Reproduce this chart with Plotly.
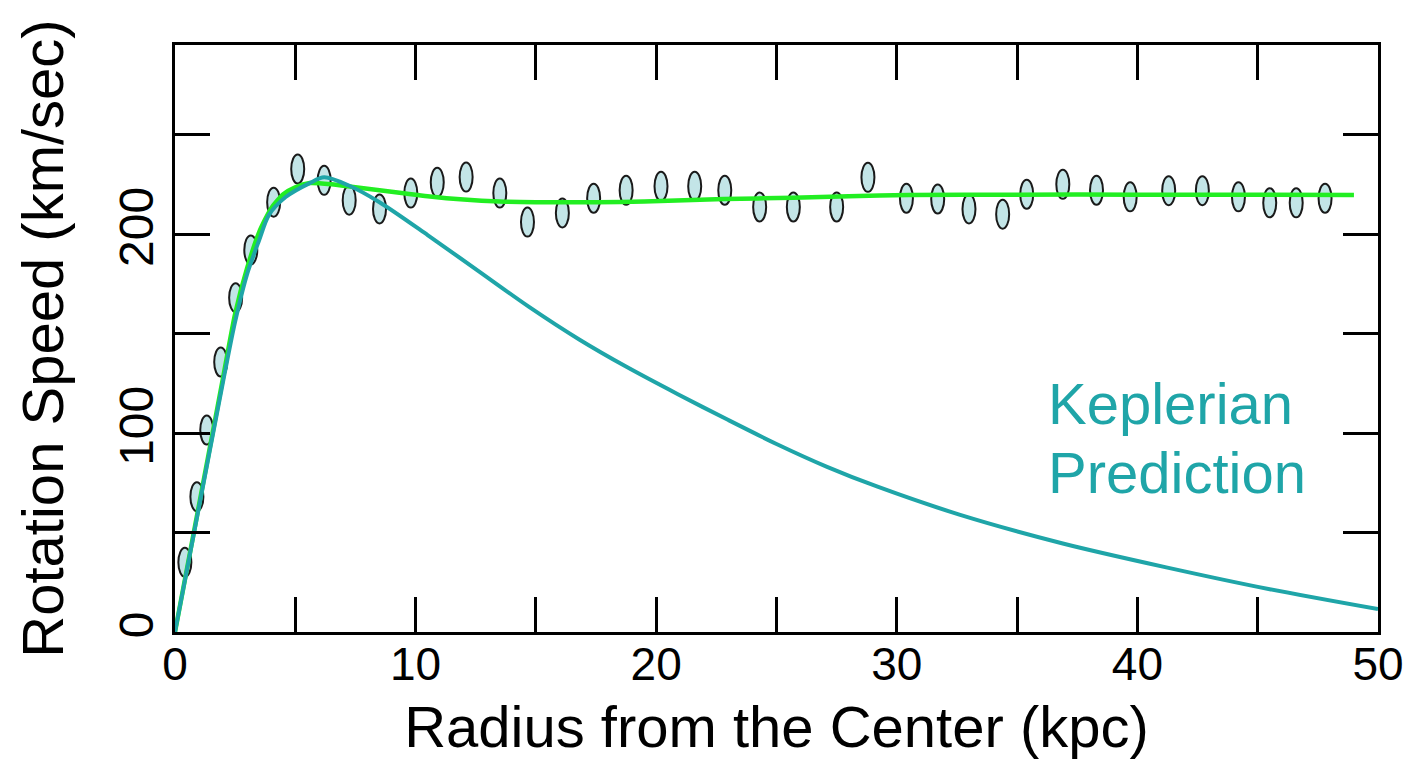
import plotly.graph_objects as go

# Observed rotation speeds (kpc, km/s)
radius_obs = [0.41, 0.91, 1.32, 1.9, 2.52, 3.15, 4.1, 5.1, 6.2, 7.24, 8.5, 9.8, 10.9, 12.1,
              13.5, 14.65, 16.1, 17.4, 18.75, 20.2, 21.6, 22.85, 24.3, 25.7, 27.5, 28.8,
              30.4, 31.7, 33.0, 34.4, 35.4, 36.9, 38.3, 39.7, 41.3, 42.7, 44.2, 45.5, 46.6, 47.8]
speed_obs = [35, 68, 101.5, 135.7, 168, 192, 216, 232.7, 227, 217, 212.6, 220.6, 226, 228.6,
             220.6, 206, 210.6, 218, 222, 224, 224, 222, 213.6, 213.6, 213.6, 228.5,
             218, 217.6, 212.6, 210, 220, 225, 222, 218.7, 221.8, 221.8, 218.7, 215.7, 215.7, 218]

# Fitted (observed) curve
radius_fit = [0, 1, 2, 2.5, 3, 3.5, 4, 4.5, 5, 5.6, 6.5, 7.5, 8.5, 9.5, 10.5, 12, 13.5, 15,
              17.5, 19.5, 22.8, 25.7, 28, 30.5, 35, 40, 45, 49]
speed_fit = [0, 64, 128, 160, 183, 201, 213, 220, 223.5, 225.6, 225, 223.5, 222, 220.5, 219,
             217.3, 216.3, 216, 216, 216.3, 217.6, 218.2, 219, 219.6, 219.8, 219.8, 219.7, 219.6]

# Keplerian prediction curve
radius_kep = [0, 1, 2, 2.5, 3, 3.5, 3.9, 4.6, 5.6, 6.2, 7.2, 8.5, 10.5, 12.6, 14.7, 16.8, 18.8,
              20.9, 23, 25, 27.1, 29.2, 32.6, 36.9, 41.2, 45.5, 50]
speed_kep = [0, 63, 126, 156, 180, 197, 209.5, 218.6, 225.6, 228.5, 224.5, 216, 199.5, 181.5, 163.5,
             147, 133, 119.5, 106.5, 94.5, 83, 73, 59, 44.5, 32.5, 21.5, 11.5]

x_tickvals = [0, 5, 10, 15, 20, 25, 30, 35, 40, 45, 50]
x_ticktext = ["0", "", "10", "", "20", "", "30", "", "40", "", "50"]
y_tickvals = [0, 50, 100, 150, 200, 250]
y_ticktext = ["0", "", "100", "", "200", ""]

FONT = "Liberation Sans, Arial, Helvetica, sans-serif"
TEAL = "#1fa5a8"
GREEN = "#22ee22"

fig = go.Figure()

fig.add_trace(go.Scatter(x=radius_fit, y=speed_fit, mode="lines",
                         line=dict(color=GREEN, width=4.5, shape="spline", smoothing=0.6),
                         showlegend=False, hoverinfo="skip"))
fig.add_trace(go.Scatter(x=radius_kep, y=speed_kep, mode="lines",
                         line=dict(color=TEAL, width=4, shape="spline", smoothing=0.8),
                         showlegend=False, hoverinfo="skip"))
fig.add_trace(go.Scatter(x=radius_obs, y=speed_obs, mode="markers",
                         marker=dict(size=12, opacity=0), showlegend=False))

# Elliptical data markers: anchored at data coordinates, sized in pixels
for xv, yv in zip(radius_obs, speed_obs):
    fig.add_shape(type="circle", xref="x", yref="y",
                  xsizemode="pixel", ysizemode="pixel",
                  xanchor=xv, yanchor=yv, x0=-6.5, x1=6.5, y0=-14.5, y1=14.5,
                  fillcolor="#c3e5e7", line=dict(color="#1a1a1a", width=2),
                  layer="below")

fig.add_annotation(x=36.2, y=115, xref="x", yref="y", text="Keplerian",
                   showarrow=False, xanchor="left", yanchor="middle",
                   font=dict(family=FONT, size=58, color=TEAL))
fig.add_annotation(x=36.2, y=80, xref="x", yref="y", text="Prediction",
                   showarrow=False, xanchor="left", yanchor="middle",
                   font=dict(family=FONT, size=58, color=TEAL))

fig.update_layout(
    width=1416, height=768,
    margin=dict(l=175, r=33, t=45, b=136),
    paper_bgcolor="white", plot_bgcolor="white",
    font=dict(family=FONT, color="black"),
    xaxis=dict(range=[0, 50], tickvals=x_tickvals, ticktext=x_ticktext,
               ticks="inside", ticklen=35, tickwidth=3, tickcolor="black",
               showline=True, linewidth=3, linecolor="black", mirror="ticks",
               showgrid=False, zeroline=False, ticklabelstandoff=-10,
               tickfont=dict(family=FONT, size=46, color="black"),
               title=dict(text="Radius from the Center (kpc)",
                          font=dict(family=FONT, size=58, color="black"), standoff=18)),
    yaxis=dict(range=[0, 295], tickvals=y_tickvals, ticktext=y_ticktext,
               ticks="inside", ticklen=35, tickwidth=3, tickcolor="black",
               showline=True, linewidth=3, linecolor="black", mirror="ticks",
               showgrid=False, zeroline=False, tickangle=-90,
               tickfont=dict(family=FONT, size=48, color="black"),
               title=dict(text="Rotation Speed (km/sec)",
                          font=dict(family=FONT, size=58, color="black"), standoff=28)),
)

fig.write_html("out.html")
